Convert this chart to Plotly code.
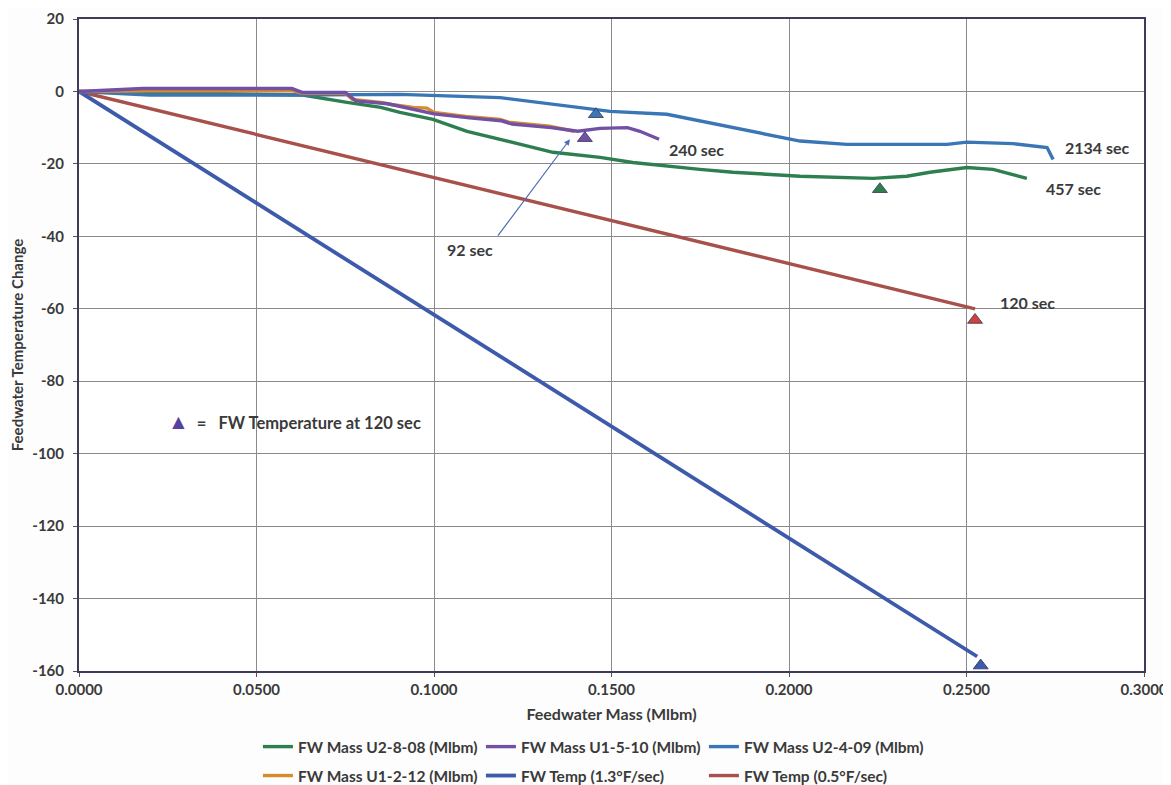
import plotly.graph_objects as go

# ---------------- data ----------------
u2808_x = [0, 0.02, 0.04, 0.055, 0.063, 0.0755, 0.085, 0.0904, 0.0997, 0.1093, 0.1186, 0.1335,
           0.1468, 0.156, 0.1749, 0.1842, 0.2031, 0.2237, 0.2332, 0.2397, 0.2501, 0.2575, 0.267]
u2808_y = [0, -0.3, -0.5, -0.7, -1.0, -3.0, -4.4, -5.8, -7.7, -11.0, -13.2, -16.8,
           -18.2, -19.6, -21.5, -22.3, -23.4, -24.0, -23.4, -22.3, -21.0, -21.5, -24.0]

u1510_x = [0, 0.018, 0.06, 0.063, 0.075, 0.078, 0.087, 0.094, 0.1, 0.11, 0.119, 0.122,
           0.133, 0.1405, 0.1468, 0.1545, 0.158, 0.1634]
u1510_y = [0, 0.8, 0.8, -0.3, -0.3, -2.6, -3.4, -4.9, -6.2, -7.3, -8.1, -9.0,
           -10.0, -11.0, -10.2, -10.0, -11.0, -13.2]

u2409_x = [0, 0.02, 0.06, 0.0904, 0.1186, 0.1279, 0.1403, 0.1496, 0.1656, 0.1797, 0.1938,
           0.2031, 0.2163, 0.2445, 0.2501, 0.2631, 0.2727, 0.2744]
u2409_y = [0, -1.0, -1.0, -0.8, -1.7, -2.8, -4.4, -5.5, -6.3, -9.0, -11.8,
           -13.7, -14.6, -14.6, -14.0, -14.4, -15.5, -18.8]

u1212_x = [0, 0.02, 0.06, 0.063, 0.075, 0.077, 0.085, 0.088, 0.0942, 0.098, 0.1, 0.109,
           0.1186, 0.121, 0.1325, 0.1395]
u1212_y = [0, 0.2, 0.2, -0.5, -0.5, -2.2, -3.0, -3.6, -4.4, -4.6, -5.8, -6.9,
           -7.7, -8.5, -9.6, -11.0]

temp13_x = [0, 0.253]
temp13_y = [0, -156]
temp05_x = [0, 0.2524]
temp05_y = [0, -60]

# FW temperature at 120 sec markers
tri_x = [0.1456, 0.1425, 0.2256, 0.2524, 0.254]
tri_y = [-6.3, -12.9, -27.0, -63.1, -158.5]

# end labels
end_labels = ["240 sec", "2134 sec", "457 sec", "120 sec"]
end_x = [0.1656, 0.2772, 0.2718, 0.2589]
end_y = [-16.0, -15.4, -26.7, -58.4]

x_ticks = [0.0, 0.05, 0.10, 0.15, 0.20, 0.25, 0.30]
y_ticks = [20, 0, -20, -40, -60, -80, -100, -120, -140, -160]
y_tick_text = ["20", "0", "-20", "-40", "-60", "-80", "-100", "-120", "-140", "-160"]

# ---------------- styles ----------------
C_GREEN = "#2e7f50"
C_PURPLE = "#7250a4"
C_BLUE = "#3a76b6"
C_ORANGE = "#d98b2b"
C_NAVY = "#3d5aab"
C_BROWN = "#a8504a"
tri_colors = [C_BLUE, C_PURPLE, C_GREEN, "#d0423c", C_NAVY]
TXT = "#3a3a3a"
FONT = "Lato"

fig = go.Figure()

def add(x, y, name, color, legend, width=3.4):
    fig.add_trace(go.Scatter(x=x, y=y, mode="lines", name=name, legend=legend,
                             line=dict(color=color, width=width)))

add(temp05_x, temp05_y, "FW Temp (0.5°F/sec)", C_BROWN, "legend2")
add(temp13_x, temp13_y, "FW Temp (1.3°F/sec)", C_NAVY, "legend2", 3.8)
add(u2808_x, u2808_y, "FW Mass U2-8-08 (Mlbm)", C_GREEN, "legend")
add(u2409_x, u2409_y, "FW Mass U2-4-09 (Mlbm)", C_BLUE, "legend")
add(u1212_x, u1212_y, "FW Mass U1-2-12 (Mlbm)", C_ORANGE, "legend2")
add(u1510_x, u1510_y, "FW Mass U1-5-10 (Mlbm)", C_PURPLE, "legend")

fig.add_trace(go.Scatter(x=tri_x, y=tri_y, mode="markers", showlegend=False,
                         marker=dict(symbol="triangle-up", size=13, color=tri_colors,
                                     line=dict(width=0.8, color="#333355"))))

# legend order
order1 = ["FW Mass U2-8-08 (Mlbm)", "FW Mass U1-5-10 (Mlbm)", "FW Mass U2-4-09 (Mlbm)"]
order2 = ["FW Mass U1-2-12 (Mlbm)", "FW Temp (1.3°F/sec)", "FW Temp (0.5°F/sec)"]
for tr in fig.data:
    if tr.name in order1:
        tr.legendrank = order1.index(tr.name) + 1
    elif tr.name in order2:
        tr.legendrank = order2.index(tr.name) + 1

for t, x, y in zip(end_labels, end_x, end_y):
    fig.add_annotation(x=x, y=y, text=t, showarrow=False, xanchor="left", yanchor="middle",
                       font=dict(family=FONT, size=16, color=TXT, weight="bold"))

# 92 sec with arrow
fig.add_annotation(x=0.1383, y=-13.2, ax=0.1177, ay=-40.2, axref="x", ayref="y",
                   text="", showarrow=True, arrowhead=2, arrowsize=1, arrowwidth=1.2,
                   arrowcolor="#4a6fb5")
fig.add_annotation(x=0.1101, y=-43.5, text="92 sec", showarrow=False,
                   font=dict(family=FONT, size=16, color=TXT, weight="bold"))

fig.add_annotation(x=0.0245, y=-90.9, xanchor="left", showarrow=False,
                   text="<span style='color:#5a3f9e;font-size:21px'>▲</span>&nbsp;&nbsp;=&nbsp;&nbsp;&nbsp;FW Temperature at 120 sec",
                   font=dict(family=FONT, size=16.5, color=TXT, weight="bold"))

legend_common = dict(orientation="h", xanchor="left", yanchor="middle",
                     font=dict(family=FONT, size=15.5, color=TXT, weight="bold"),
                     bgcolor="rgba(0,0,0,0)", entrywidth=178, entrywidthmode="pixels",
                     itemwidth=30, tracegroupgap=0)

fig.update_layout(
    width=1163, height=777,
    margin=dict(l=71, r=27, t=11, b=114, autoexpand=False),
    paper_bgcolor="#fdfdfd", plot_bgcolor="white",
    font=dict(family=FONT, color=TXT),
    legend=dict(x=0.168, y=-0.1166, **legend_common),
    legend2=dict(x=0.168, y=-0.161, **legend_common),
    xaxis=dict(range=[0, 0.3], tickvals=x_ticks, tickformat=".4f", automargin=False,
               showgrid=True, gridcolor="#8a8a8a", gridwidth=1,
               showline=True, linecolor="#3c3c5a", linewidth=2, mirror=True,
               zeroline=False, ticks="outside", ticklen=4, tickcolor="#555",
               tickfont=dict(family=FONT, size=15, color=TXT, weight="bold"),
               title=dict(text="Feedwater Mass (Mlbm)", standoff=12,
                          font=dict(family=FONT, size=16, color=TXT, weight="bold"))),
    yaxis=dict(range=[-160, 20], tickvals=y_ticks, ticktext=y_tick_text, automargin=False,
               showgrid=True, gridcolor="#8a8a8a", gridwidth=1,
               showline=True, linecolor="#3c3c5a", linewidth=2, mirror=True,
               zeroline=False, ticks="outside", ticklen=4, tickcolor="#555",
               ticklabelstandoff=6,
               tickfont=dict(family=FONT, size=15, color=TXT, weight="bold"),
               title=dict(text="Feedwater Temperature Change", standoff=6,
                          font=dict(family=FONT, size=15, color=TXT, weight="bold"))),
)

fig.write_html("out.html")
